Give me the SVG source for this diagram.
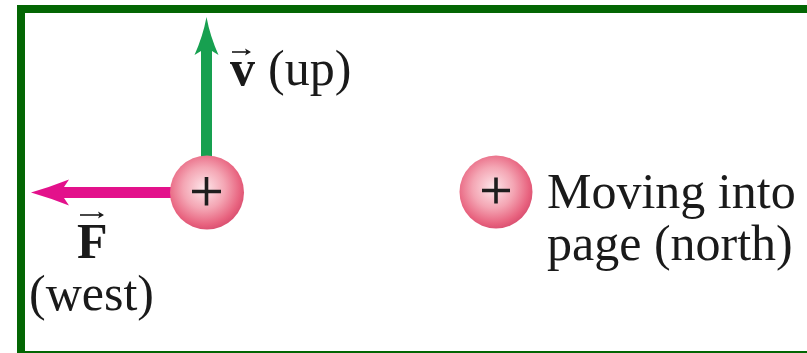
<svg xmlns="http://www.w3.org/2000/svg" width="807" height="353" viewBox="0 0 807 353">
<defs>
<radialGradient id="ball" cx="0.46" cy="0.44" r="0.56">
<stop offset="0" stop-color="#fde6ea"/>
<stop offset="0.5" stop-color="#f4a6b4"/>
<stop offset="0.88" stop-color="#e8637f"/>
<stop offset="1" stop-color="#dc5373"/>
</radialGradient>
<style>
.t{font-family:"Liberation Serif","Times New Roman",serif;fill:#1a1a1a;font-size:50px}
.b{font-weight:bold}
.plus{stroke:#1e1e1e;stroke-width:3.6;fill:none}
.vec{stroke:#1a1a1a;stroke-width:1.6;fill:none}
.vh{fill:#1a1a1a}
</style>
</defs>
<rect width="807" height="353" fill="#ffffff"/>
<g id="frame" fill="#036603">
<rect x="17" y="5" width="790" height="8"/>
<rect x="17" y="5" width="8" height="348"/>
<rect x="17" y="351" width="790" height="2"/>
</g>
<g id="connectors">
<path id="velocity" fill="#17a050" d="M206.5 17 Q210 36 218.5 55 L212 51 L212 165 L201 165 L201 51 L194.5 55 Q203 36 206.5 17 Z"/>
<path id="force" fill="#e3118b" d="M31 192.5 Q50 187 69 179.5 L64 187 L180 187 L180 198 L64 198 L69 205.5 Q50 198 31 192.5 Z"/>
</g>
<g id="charge1">
<circle cx="207" cy="192.5" r="37" fill="url(#ball)"/>
<path class="plus" d="M192 191.5 H221 M206.5 177 V205.5"/>
</g>
<g id="charge2">
<circle cx="496" cy="192" r="36.5" fill="url(#ball)"/>
<path class="plus" d="M482 190.5 H510 M496 177.5 V203.5"/>
</g>
<g id="label-v">
<text class="t b" x="230" y="85">v</text>
<path class="vec" d="M232 52 H248"/>
<path class="vh" d="M251 52 L245 48.5 L246.5 52 L245 55.5 Z"/>
<text class="t" x="268" y="85">(up)</text>
</g>
<g id="label-F">
<text class="t b" x="77" y="258">F</text>
<path class="vec" d="M80 215 H101"/>
<path class="vh" d="M104 215 L98 211.5 L99.5 215 L98 218.5 Z"/>
<text class="t" x="29" y="310">(west)</text>
</g>
<g id="label-north">
<text class="t" x="547" y="208" font-size="51">Moving into</text>
<text class="t" x="547" y="260" font-size="51">page (north)</text>
</g>
</svg>
